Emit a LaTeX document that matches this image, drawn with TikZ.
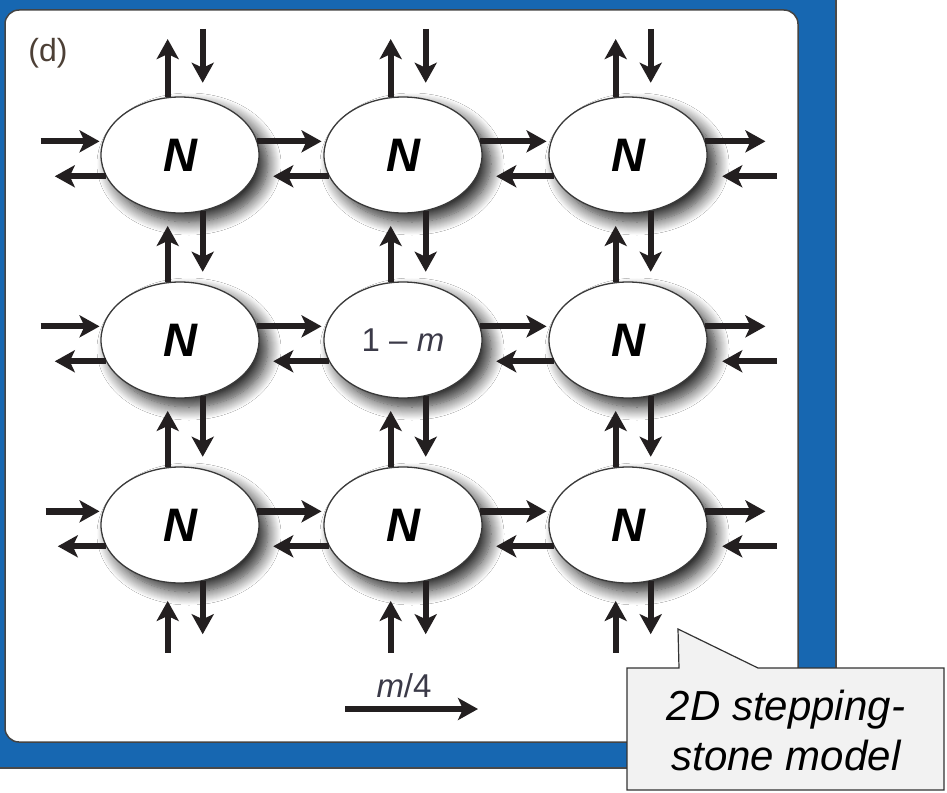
\documentclass[tikz,border=0pt]{standalone}
\usepackage{fontspec}
\setmainfont{Liberation Sans}
\usetikzlibrary{positioning,shapes,shadows,shadows.blur,arrows.meta}

\definecolor{frameblue}{RGB}{23,103,177}
\definecolor{framedark}{HTML}{4A4A4A}
\definecolor{paneledge}{HTML}{444444}
\definecolor{arrowdark}{HTML}{231F20}
\definecolor{demeedge}{HTML}{3A3A3A}
\definecolor{labelbrown}{HTML}{4D4036}
\definecolor{labelgray}{HTML}{3B3A48}
\definecolor{calloutgray}{HTML}{F2F2F2}
\definecolor{calloutedge}{HTML}{333333}

\begin{document}
\begin{tikzpicture}[x=1pt,y=-1pt,
  deme/.style={ellipse, draw=demeedge, line width=1.3pt, fill=white,
    minimum width=158pt, minimum height=116pt, inner sep=0pt,
    blur shadow={shadow xshift=9pt, shadow yshift=-9pt,
      shadow blur radius=13pt, shadow blur steps=14, shadow opacity=85},
    font=\fontsize{47}{47}\selectfont\bfseries\itshape},
  mig/.style={line width=6.3pt, draw=arrowdark,
    -{Stealth[length=20pt,width=22pt,inset=5pt]}}]
\useasboundingbox (0,0) rectangle (947,792);
\fill[frameblue] (0,0) rectangle (836,768);
\draw[framedark, line width=1.5pt] (836,0) -- (836,768) -- (0,768);
\filldraw[fill=white, draw=paneledge, line width=1.5pt, rounded corners=14pt] (5,10) rectangle (798,742);
\node[font=\fontsize{32}{32}\selectfont, text=labelbrown] (tag) at (48,53) {(d)};

\node[deme] (n11) at (180,155) {N};
\node[deme] (n12) at (403,155) {N};
\node[deme] (n13) at (628,155) {N};
\node[deme] (n21) at (180,340) {N};
\node[deme, font=\fontsize{33}{33}\selectfont, text=labelgray] (n22) at (403,340) {1 – \textit{m}};
\node[deme] (n23) at (628,340) {N};
\node[deme] (n31) at (180,525) {N};
\node[deme] (n32) at (403,525) {N};
\node[deme] (n33) at (628,525) {N};

\draw[mig, shorten >=3pt] ([xshift=-62pt]n11.170) -- (n11.170);
\draw[mig] (n11.196) -- ([xshift=-51pt]n11.196);
\draw[mig, shorten >=4pt] (n11.10) -- (n12.170);
\draw[mig, shorten >=19pt] (n12.196) -- (n11.-16);
\draw[mig, shorten >=4pt] (n12.10) -- (n13.170);
\draw[mig, shorten >=19pt] (n13.196) -- (n12.-16);
\draw[mig] (n13.10) -- ([xshift=60pt]n13.10);
\draw[mig, shorten >=20pt] ([xshift=75pt]n13.-16) -- (n13.-16);

\draw[mig, shorten >=3pt] ([xshift=-62pt]n21.170) -- (n21.170);
\draw[mig] (n21.196) -- ([xshift=-51pt]n21.196);
\draw[mig, shorten >=4pt] (n21.10) -- (n22.170);
\draw[mig, shorten >=19pt] (n22.196) -- (n21.-16);
\draw[mig, shorten >=4pt] (n22.10) -- (n23.170);
\draw[mig, shorten >=19pt] (n23.196) -- (n22.-16);
\draw[mig] (n23.10) -- ([xshift=60pt]n23.10);
\draw[mig, shorten >=20pt] ([xshift=75pt]n23.-16) -- (n23.-16);

\draw[mig, shorten >=3pt] ([xshift=-57pt]n31.170) -- (n31.170);
\draw[mig] (n31.196) -- ([xshift=-48pt]n31.196);
\draw[mig, shorten >=4pt] (n31.10) -- (n32.170);
\draw[mig, shorten >=19pt] (n32.196) -- (n31.-16);
\draw[mig, shorten >=4pt] (n32.10) -- (n33.170);
\draw[mig, shorten >=19pt] (n33.196) -- (n32.-16);
\draw[mig] (n33.10) -- ([xshift=60pt]n33.10);
\draw[mig, shorten >=20pt] ([xshift=75pt]n33.-16) -- (n33.-16);

\draw[mig] (n11.102) -- ([yshift=58pt]n11.102);
\draw[mig, shorten >=16pt] ([yshift=70pt]n11.68) -- (n11.68);
\draw[mig, shorten >=13pt] (n21.102) -- (n11.-102);
\draw[mig, shorten >=12pt] (n11.-68) -- (n21.68);
\draw[mig, shorten >=13pt] (n31.102) -- (n21.-102);
\draw[mig, shorten >=12pt] (n21.-68) -- (n31.68);
\draw[mig, shorten >=18pt] ([yshift=-70pt]n31.-102) -- (n31.-102);
\draw[mig] (n31.-68) -- ([yshift=-53pt]n31.-68);

\draw[mig] (n12.102) -- ([yshift=58pt]n12.102);
\draw[mig, shorten >=16pt] ([yshift=70pt]n12.68) -- (n12.68);
\draw[mig, shorten >=13pt] (n22.102) -- (n12.-102);
\draw[mig, shorten >=12pt] (n12.-68) -- (n22.68);
\draw[mig, shorten >=13pt] (n32.102) -- (n22.-102);
\draw[mig, shorten >=12pt] (n22.-68) -- (n32.68);
\draw[mig, shorten >=18pt] ([yshift=-70pt]n32.-102) -- (n32.-102);
\draw[mig] (n32.-68) -- ([yshift=-53pt]n32.-68);

\draw[mig] (n13.102) -- ([yshift=58pt]n13.102);
\draw[mig, shorten >=16pt] ([yshift=70pt]n13.68) -- (n13.68);
\draw[mig, shorten >=13pt] (n23.102) -- (n13.-102);
\draw[mig, shorten >=12pt] (n13.-68) -- (n23.68);
\draw[mig, shorten >=13pt] (n33.102) -- (n23.-102);
\draw[mig, shorten >=12pt] (n23.-68) -- (n33.68);
\draw[mig, shorten >=18pt] ([yshift=-70pt]n33.-102) -- (n33.-102);
\draw[mig] (n33.-68) -- ([yshift=-53pt]n33.-68);

\node[font=\fontsize{33}{33}\selectfont, text=labelgray, anchor=base] (rate) at (404,697) {\textit{m}/4};
\coordinate (rateL) at (345,709);
\coordinate (rateR) at (478,709);
\draw[mig] (rateL) -- (rateR);

\filldraw[fill=calloutgray, draw=calloutedge, line width=1.2pt] (627,668) -- (679,668) -- (678,629) -- (758,668) -- (944,668) -- (944,790) -- (627,790) -- cycle;
\node[font=\fontsize{42}{50}\selectfont\itshape, align=center] (note) at (786,730) {2D stepping-\\stone model};
\end{tikzpicture}
\end{document}
